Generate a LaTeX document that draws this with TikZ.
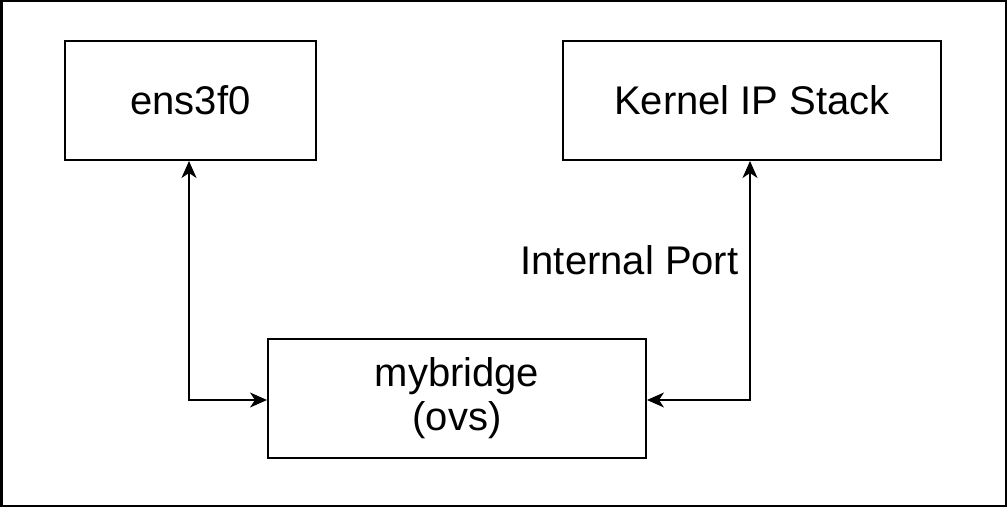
\documentclass[tikz,border=0pt]{standalone}
\usepackage{fontspec}
\setmainfont{Liberation Sans}
\usetikzlibrary{arrows.meta}
\begin{document}
\begin{tikzpicture}[x=1pt,y=-1pt,
  box/.style={draw, line width=2pt, minimum width=#1, minimum height=119pt, inner sep=0pt, font=\fontsize{40}{44}\selectfont, align=center},
  conn/.style={line width=2pt, {Stealth[length=17pt,width=15pt,inset=5pt]}-{Stealth[length=17pt,width=15pt,inset=5pt]}},
  lbl/.style={font=\fontsize{40}{44}\selectfont}]
\useasboundingbox (0,0) rectangle (1008,508);
\draw[line width=2.5pt] (1.25,1.25) rectangle (1006,506);
\node[box=251pt] (ens) at (190.5,100.5) {ens3f0};
\node[box=378pt] (kern) at (752,100.5) {Kernel IP Stack};
\node[box=378pt] (br) at (457,398.5) {mybridge\\(ovs)};
\draw[conn] (ens.south -| 189,0) -- (189,400) -- (br.west |- 0,400);
\draw[conn] (kern.south -| 750,0) -- (750,400) -- (br.east |- 0,400);
\node[lbl] (ip) at (629.5,260) {Internal Port};
\end{tikzpicture}
\end{document}
